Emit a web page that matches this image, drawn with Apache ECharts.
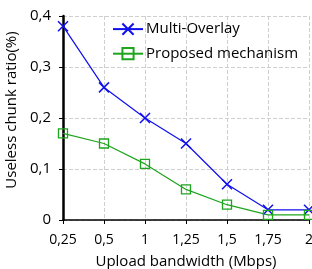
<!DOCTYPE html>
<html lang="en">
<head>
  <meta http-equiv="Content-Type" content="text/html; charset=UTF-8">
  <title>ECharts</title>
  <script type="text/javascript" src="https://cdn.jsdelivr.net/npm/echarts@6/dist/echarts.min.js"></script>
  <style>html,body{margin:0;padding:0;background:#fff;}</style>
</head>
<body>
<div id="main" style="width: 312px;height:269px;"></div>
<script type="text/javascript">
  var myChart = echarts.init(document.getElementById('main'));
  // 横轴类别
  const bandwidths = ['0,25', '0,5', '1', '1,25', '1,5', '1,75', '2'];
  // 两条曲线
  const multiOverlay = [0.38, 0.26, 0.20, 0.15, 0.07, 0.02, 0.02];
  const proposed = [0.17, 0.15, 0.11, 0.06, 0.03, 0.01, 0.01];
  const yTicks = [0, 0.1, 0.2, 0.3, 0.4];

  const font = 'Open Sans';
  const crossPath = 'path://M0,0L10,10M10,0L0,10';

  myChart.setOption({
    animation: false,
    textStyle: { fontFamily: font },
    grid: { left: 63, right: 3, top: 16, bottom: 49, containLabel: false, outerBoundsMode: 'none' },
    legend: {
      left: 112,
      top: 21,
      padding: 0,
      orient: 'vertical',
      itemGap: 9,
      itemWidth: 30,
      itemHeight: 14,
      textStyle: { fontSize: 15, lineHeight: 15, color: '#000', fontFamily: font, padding: [0, 0, 0, -2] },
      data: ['Multi-Overlay', 'Proposed mechanism']
    },
    xAxis: {
      type: 'category',
      data: bandwidths,
      boundaryGap: false,
      name: 'Upload bandwidth (Mbps)',
      nameLocation: 'middle',
      nameGap: 34,
      nameTextStyle: { fontSize: 15, color: '#000' },
      axisLine: { lineStyle: { color: '#000', width: 1.5 } },
      axisTick: { show: true, alignWithLabel: true, length: 4, lineStyle: { color: '#000' } },
      axisLabel: { fontSize: 14, color: '#000', margin: 13 },
      splitLine: { show: true, lineStyle: { color: '#cfcfcf', type: 'dashed' } }
    },
    yAxis: {
      type: 'value',
      min: 0,
      max: 0.4,
      interval: 0.1,
      name: 'Useless chunk ratio(%)',
      nameLocation: 'middle',
      nameGap: 41,
      nameTextStyle: { fontSize: 15, color: '#000', padding: [0, 0, 0, 16] },
      axisLine: { show: true, lineStyle: { color: '#000', width: 2.5 } },
      axisTick: { show: true, length: 4, lineStyle: { color: '#000' } },
      axisLabel: {
        fontSize: 15,
        color: '#000',
        margin: 12,
        formatter: function (v) {
          return yTicks.indexOf(v) >= 0 ? String(v).replace('.', ',') : '';
        }
      },
      splitLine: { show: true, lineStyle: { color: '#cfcfcf', type: 'dashed' } }
    },
    series: [
      {
        name: 'Multi-Overlay',
        type: 'line',
        data: multiOverlay,
        symbol: crossPath,
        symbolSize: 10,
        lineStyle: { color: '#1010ee', width: 1.2 },
        itemStyle: { color: 'none', borderColor: '#1010ee', borderWidth: 1.5 }
      },
      {
        name: 'Proposed mechanism',
        type: 'line',
        data: proposed,
        symbol: 'rect',
        symbolSize: 9,
        lineStyle: { color: '#1ea51e', width: 1.2 },
        itemStyle: { color: 'rgba(255,255,255,0)', borderColor: '#1ea51e', borderWidth: 1.3 }
      }
    ]
  });
</script>
</body>
</html>
